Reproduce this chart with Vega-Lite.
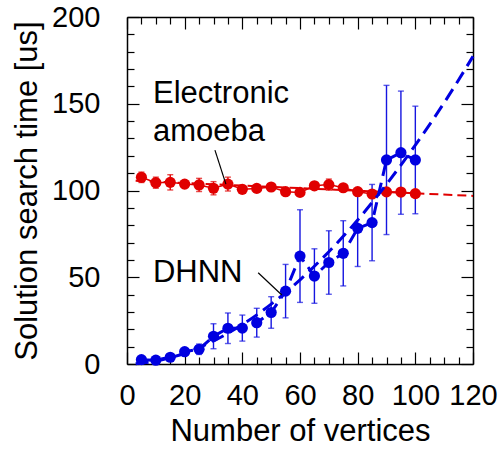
{
  "$schema": "https://vega.github.io/schema/vega-lite/v6.json",
  "width": 346,
  "height": 347,
  "autosize": {"type": "none"},
  "padding": {"left": 127, "top": 17, "right": 27, "bottom": 90},
  "config": {
    "view": {"stroke": null},
    "font": "Liberation Sans",
    "axis": {
      "grid": false,
      "domainColor": "black",
      "domainWidth": 1.5,
      "tickColor": "black",
      "tickWidth": 1.2,
      "labelColor": "black",
      "labelFontSize": 29,
      "labelOverlap": false,
      "labelBound": false,
      "labelFlush": false,
      "titleColor": "black",
      "titleFontSize": 31,
      "titleFontWeight": "normal"
    }
  },
  "datasets": {
    "amoeba": [
      {"x": 5, "y": 107.6, "lo": 104.6, "hi": 110.6},
      {"x": 10, "y": 104.5, "lo": 101.3, "hi": 107.7},
      {"x": 15, "y": 104.7, "lo": 100.3, "hi": 109.1},
      {"x": 20, "y": 103.7, "lo": 102.2, "hi": 105.2},
      {"x": 25, "y": 103.2, "lo": 99.4, "hi": 107.0},
      {"x": 30, "y": 101.3, "lo": 97.5, "hi": 105.1},
      {"x": 35, "y": 103.7, "lo": 99.7, "hi": 107.7},
      {"x": 40, "y": 100.7, "lo": 99.2, "hi": 102.2},
      {"x": 45, "y": 101.2, "lo": 99.7, "hi": 102.7},
      {"x": 50, "y": 102.0, "lo": 100.5, "hi": 103.5},
      {"x": 55, "y": 99.3, "lo": 97.8, "hi": 100.8},
      {"x": 60, "y": 98.9, "lo": 97.4, "hi": 100.4},
      {"x": 65, "y": 102.7, "lo": 100.7, "hi": 104.7},
      {"x": 70, "y": 103.4, "lo": 100.2, "hi": 106.6},
      {"x": 75, "y": 101.6, "lo": 100.1, "hi": 103.1},
      {"x": 80, "y": 99.3, "lo": 97.8, "hi": 100.8},
      {"x": 85, "y": 98.0, "lo": 96.5, "hi": 99.5},
      {"x": 90, "y": 99.2, "lo": 97.7, "hi": 100.7},
      {"x": 95, "y": 99.1, "lo": 97.6, "hi": 100.6},
      {"x": 100, "y": 98.2, "lo": 96.7, "hi": 99.7}
    ],
    "amoebaFit": [
      {"x": 3, "y": 105.6},
      {"x": 120, "y": 96.9}
    ],
    "dhnn": [
      {"x": 5, "y": 2.5, "lo": 2.0, "hi": 3.0},
      {"x": 10, "y": 2.2, "lo": 1.7, "hi": 2.7},
      {"x": 15, "y": 3.9, "lo": 3.0, "hi": 4.8},
      {"x": 20, "y": 7.1, "lo": 5.6, "hi": 8.6},
      {"x": 25, "y": 8.5, "lo": 5.5, "hi": 11.5},
      {"x": 30, "y": 16.0, "lo": 8.8, "hi": 23.2},
      {"x": 35, "y": 20.6, "lo": 11.8, "hi": 29.4},
      {"x": 40, "y": 20.7, "lo": 13.2, "hi": 28.2},
      {"x": 45, "y": 23.8, "lo": 15.5, "hi": 32.1},
      {"x": 50, "y": 29.7, "lo": 20.6, "hi": 38.8},
      {"x": 55, "y": 42.0, "lo": 26.6, "hi": 57.4},
      {"x": 60, "y": 62.2, "lo": 35.5, "hi": 88.9},
      {"x": 65, "y": 50.7, "lo": 35.0, "hi": 66.4},
      {"x": 70, "y": 58.5, "lo": 40.2, "hi": 76.8},
      {"x": 75, "y": 63.8, "lo": 45.0, "hi": 82.6},
      {"x": 80, "y": 78.2, "lo": 56.2, "hi": 100.2},
      {"x": 85, "y": 81.5, "lo": 59.5, "hi": 103.5},
      {"x": 90, "y": 117.6, "lo": 74.6, "hi": 160.6},
      {"x": 95, "y": 121.8, "lo": 86.3, "hi": 157.3},
      {"x": 100, "y": 117.6, "lo": 86.6, "hi": 148.6}
    ],
    "dhnnFit": [
      {"x": 3, "y": 0.2},
      {"x": 10, "y": 1.7},
      {"x": 20, "y": 6.2},
      {"x": 30, "y": 13.3},
      {"x": 40, "y": 22.7},
      {"x": 50, "y": 34.5},
      {"x": 60, "y": 48.5},
      {"x": 70, "y": 64.7},
      {"x": 80, "y": 83.0},
      {"x": 90, "y": 103.6},
      {"x": 100, "y": 126.2},
      {"x": 110, "y": 150.6},
      {"x": 120, "y": 177.3}
    ],
    "labels": [
      {"x": 9, "y": 150.3, "name": ["Electronic", "amoeba"]},
      {"x": 9, "y": 47.3, "name": ["DHNN"]}
    ],
    "leaders": [
      {"x": 30.5, "y": 123.3, "x2": 34.3, "y2": 103.7},
      {"x": 45.5, "y": 52.6, "x2": 53.7, "y2": 39.8}
    ]
  },
  "layer": [
    {
      "encoding": {
        "x": {
          "field": "x",
          "type": "quantitative",
          "scale": {"domain": [0, 120], "nice": false, "zero": false},
          "axis": {
            "orient": "bottom",
            "title": "Number of vertices",
            "values": [0, 5, 10, 15, 20, 25, 30, 35, 40, 45, 50, 55, 60, 65, 70, 75, 80, 85, 90, 95, 100, 105, 110, 115, 120],
            "labelExpr": "datum.value % 20 === 0 ? datum.label : ''",
            "tickSize": {"condition": {"test": "datum.value % 20 === 0", "value": -12}, "value": -7},
            "labelPadding": 29,
            "titlePadding": 1
          }
        },
        "y": {
          "field": "y",
          "type": "quantitative",
          "scale": {"domain": [0, 200], "nice": false},
          "axis": {
            "orient": "left",
            "title": "Solution search time [us]",
            "values": [0, 10, 20, 30, 40, 50, 60, 70, 80, 90, 100, 110, 120, 130, 140, 150, 160, 170, 180, 190, 200],
            "labelExpr": "datum.value % 50 === 0 ? datum.label : ''",
            "tickSize": {"condition": {"test": "datum.value % 50 === 0", "value": -12}, "value": -7},
            "labelPadding": 39,
            "titlePadding": 8
          }
        }
      },
      "layer": [
        {
          "data": {"name": "amoebaFit"},
          "mark": {"type": "line", "color": "#e00000", "strokeWidth": 2, "strokeDash": [9, 5]}
        },
        {
          "data": {"name": "amoeba"},
          "mark": {"type": "line", "color": "#e00000", "strokeWidth": 1.5}
        },
        {
          "data": {"name": "dhnn"},
          "mark": {"type": "rule", "color": "#1515e0", "strokeWidth": 1.4},
          "encoding": {"y": {"field": "lo", "type": "quantitative"}, "y2": {"field": "hi"}}
        },
        {
          "data": {"name": "dhnn"},
          "mark": {"type": "tick", "orient": "horizontal", "color": "#1515e0", "size": 6, "thickness": 1.4},
          "encoding": {"y": {"field": "lo", "type": "quantitative"}}
        },
        {
          "data": {"name": "dhnn"},
          "mark": {"type": "tick", "orient": "horizontal", "color": "#1515e0", "size": 6, "thickness": 1.4},
          "encoding": {"y": {"field": "hi", "type": "quantitative"}}
        },
        {
          "data": {"name": "amoeba"},
          "mark": {"type": "rule", "color": "#e00000", "strokeWidth": 1.4},
          "encoding": {"y": {"field": "lo", "type": "quantitative"}, "y2": {"field": "hi"}}
        },
        {
          "data": {"name": "amoeba"},
          "mark": {"type": "tick", "orient": "horizontal", "color": "#e00000", "size": 6, "thickness": 1.4},
          "encoding": {"y": {"field": "lo", "type": "quantitative"}}
        },
        {
          "data": {"name": "amoeba"},
          "mark": {"type": "tick", "orient": "horizontal", "color": "#e00000", "size": 6, "thickness": 1.4},
          "encoding": {"y": {"field": "hi", "type": "quantitative"}}
        },
        {
          "data": {"name": "amoeba"},
          "mark": {"type": "circle", "color": "#e00000", "opacity": 1, "size": 125}
        },
        {
          "data": {"name": "dhnnFit"},
          "mark": {"type": "line", "color": "#0000e0", "strokeWidth": 3, "strokeDash": [13, 7], "interpolate": "monotone"}
        },
        {
          "data": {"name": "dhnn"},
          "mark": {"type": "line", "color": "#0000e0", "strokeWidth": 3, "strokeDash": [13, 7]}
        },
        {
          "data": {"name": "dhnn"},
          "mark": {"type": "circle", "color": "#0000e0", "opacity": 1, "size": 125}
        },
        {
          "data": {"name": "leaders"},
          "mark": {"type": "rule", "color": "black", "strokeWidth": 1.2},
          "encoding": {"x2": {"field": "x2"}, "y2": {"field": "y2"}}
        },
        {
          "data": {"name": "labels"},
          "mark": {"type": "text", "align": "left", "baseline": "alphabetic", "fontSize": 31, "lineHeight": 38, "color": "black"},
          "encoding": {"text": {"field": "name"}}
        }
      ]
    },
    {
      "data": {"name": "dhnn"},
      "mark": {"type": "point", "opacity": 0},
      "encoding": {
        "x": {
          "field": "x",
          "type": "quantitative",
          "scale": {"domain": [0, 120], "nice": false, "zero": false},
          "axis": {
            "orient": "top",
            "title": null,
            "labels": false,
            "values": [0, 5, 10, 15, 20, 25, 30, 35, 40, 45, 50, 55, 60, 65, 70, 75, 80, 85, 90, 95, 100, 105, 110, 115, 120],
            "tickSize": {"condition": {"test": "datum.value % 20 === 0", "value": -12}, "value": -7}
          }
        },
        "y": {
          "field": "y",
          "type": "quantitative",
          "scale": {"domain": [0, 200], "nice": false},
          "axis": {
            "orient": "right",
            "title": null,
            "labels": false,
            "values": [0, 10, 20, 30, 40, 50, 60, 70, 80, 90, 100, 110, 120, 130, 140, 150, 160, 170, 180, 190, 200],
            "tickSize": {"condition": {"test": "datum.value % 50 === 0", "value": -12}, "value": -7}
          }
        }
      }
    }
  ],
  "resolve": {"axis": {"x": "independent", "y": "independent"}}
}
